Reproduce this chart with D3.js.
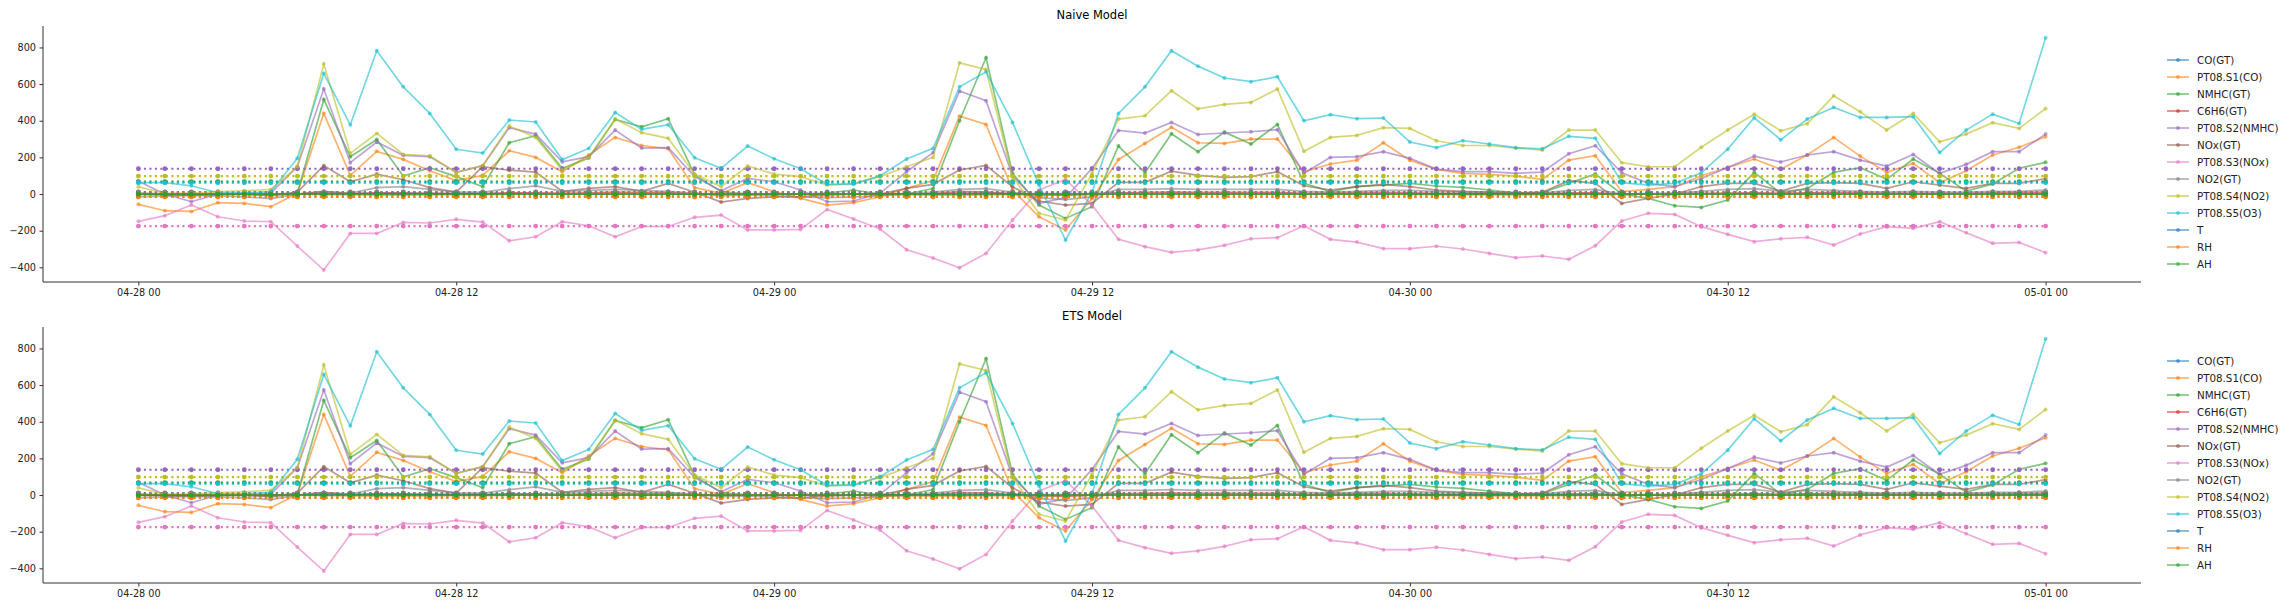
<!DOCTYPE html>
<html>
<head>
<meta charset="utf-8">
<script src="https://cdn.jsdelivr.net/npm/d3@7"></script>
<style>
  body { margin: 0; background: #fff; }
  svg { font-family: "DejaVu Sans", sans-serif; }
</style>
</head>
<body>
<div id="chart"></div>
<script>
// ---- Data (hourly, 04-28 00 .. 05-01 00) ----
const seriesNames = ["CO(GT)", "PT08.S1(CO)", "NMHC(GT)", "C6H6(GT)", "PT08.S2(NMHC)", "NOx(GT)",
    "PT08.S3(NOx)", "NO2(GT)", "PT08.S4(NO2)", "PT08.S5(O3)", "T", "RH", "AH"];
const seriesColors = ["#1f77b4", "#ff7f0e", "#2ca02c", "#d62728", "#9467bd", "#8c564b",
    "#e377c2", "#7f7f7f", "#bcbd22", "#17becf", "#1f77b4", "#ff7f0e", "#2ca02c"];
const panelTitles = ["Naive Model", "ETS Model"];
const startTime = "2004-04-28T00:00:00Z";
const nHours = 73;
const yTicks = [-400, -200, 0, 200, 400, 600, 800];

const coGT = [
    -1, -1, -2, -1, -1, -2, 0, 4, 1, 2, 1, 1,
    0, 1, 2, 2, 1, 1, 2, 2, 2, 0, -1, 0,
    0, -1, -1, -1, 0, 1, 1, 3, 4, 0, -2, -3,
    -1, 2, 2, 3, 2, 2, 2, 2, 1, 1, 1, 2,
    1, 1, 1, 1, 1, 1, 1, 2, 0, 0, 0, 1,
    1, 2, 1, 2, 2, 1, 1, 1, 1, 1, 1, 1,
    2];
const pt08s1 = [
    -56, -91, -95, -47, -51, -69, 4, 440, 102, 233, 189, 127,
    73, 102, 236, 200, 122, 213, 309, 265, 247, 35, 4, 62,
    13, -24, -60, -47, -15, 31, 73, 425, 380, 22, -124, -196,
    -24, 189, 276, 364, 280, 276, 300, 300, 122, 164, 185, 280,
    185, 135, 113, 107, 98, 80, 185, 209, 13, 25, 40, 100,
    145, 191, 135, 213, 309, 207, 118, 167, 62, 127, 213, 255,
    313];
const nmhcGT = [
    5, 0, 0, 0, 0, 0, 5, 516, 204, 298, 98, 144,
    95, 40, 280, 318, 140, 196, 407, 367, 411, 104, 13, 0,
    0, 0, 5, 22, 0, 0, 30, 400, 744, 113, -60, -133,
    -69, 262, 116, 329, 231, 338, 273, 380, 58, 13, 40, 49,
    58, 44, 36, 22, 7, 7, 58, 109, 0, -24, -64, -73,
    -33, 118, 4, 31, 118, 144, 80, 191, 113, 16, 55, 140,
    173];
const c6h6GT = [
    -2, -3, -3, -2, -2, -2, 0, 14, 3, 7, 6, 4,
    2, 3, 7, 6, 4, 7, 10, 8, 8, 1, 0, 2,
    0, -1, -2, -1, 0, 1, 2, 13, 12, 1, -4, -6,
    -1, 6, 9, 11, 9, 9, 9, 9, 4, 5, 6, 9,
    6, 4, 3, 3, 3, 2, 6, 7, 0, 1, 1, 3,
    4, 6, 4, 7, 9, 6, 4, 5, 2, 4, 7, 8,
    10];
const pt08s2 = [
    70, 0, -42, 0, 2, 5, 149, 573, 171, 284, 211, 204,
    118, 155, 362, 327, 176, 204, 349, 251, 253, 95, 18, 85,
    67, 22, -42, -38, 4, 122, 225, 562, 509, 100, -51, -20,
    140, 347, 333, 391, 325, 333, 340, 351, 113, 200, 204, 231,
    195, 136, 122, 122, 113, 120, 220, 264, 116, 58, 40, 85,
    145, 207, 175, 213, 231, 185, 153, 216, 113, 162, 231, 231,
    327];
const noxGT = [
    0, -2, -5, 0, 0, -10, 10, 155, 67, 109, 78, 35,
    11, 150, 130, 120, 15, 31, 40, 15, 58, 10, -44, -24,
    -15, -15, -5, 0, 0, 31, 53, 131, 156, 40, -38, -60,
    -51, 64, 64, 125, 102, 91, 95, 122, 45, 22, 40, 53,
    40, 22, 15, 10, 7, 10, 73, 58, -51, -24, 0, 40,
    58, 58, 16, 58, 62, 58, 31, 67, 49, 31, 58, 58,
    85];
const pt08s3 = [
    -149, -118, -60, -124, -147, -151, -284, -415, -215, -215, -155, -158,
    -138, -153, -255, -233, -151, -173, -233, -177, -177, -127, -115, -196,
    -196, -193, -84, -136, -191, -304, -349, -402, -324, -142, 22, 80,
    -60, -247, -287, -318, -305, -280, -244, -238, -173, -247, -262, -298,
    -298, -285, -300, -324, -347, -338, -356, -282, -147, -105, -111, -178,
    -220, -260, -244, -236, -278, -218, -178, -187, -151, -211, -269, -264,
    -320];
const no2GT = [
    -15, -12, -8, -10, -15, -25, 0, 12, 5, 35, 40, 25,
    12, 10, 30, 45, 15, 20, 25, 20, 15, 5, -10, -5,
    -10, -15, -20, -15, -10, 0, 10, 25, 30, 10, -20, -30,
    -15, 25, 25, 30, 25, 25, 25, 25, 15, 10, 15, 20,
    20, 15, 10, 10, 5, 5, 20, 25, 0, 0, 5, 15,
    25, 30, 15, 25, 20, 15, 10, 15, 10, 10, 15, 15,
    22];
const pt08s4 = [
    40, 4, 4, 13, 18, 25, 150, 709, 222, 331, 216, 209,
    118, 155, 371, 309, 130, 200, 409, 335, 304, 109, 40, 153,
    109, 95, 49, 58, 95, 149, 200, 716, 680, 95, -105, -142,
    113, 409, 427, 564, 465, 489, 500, 573, 233, 309, 320, 362,
    358, 291, 265, 265, 251, 240, 349, 349, 171, 149, 149, 255,
    349, 435, 345, 384, 536, 449, 349, 440, 285, 327, 389, 358,
    467];
const pt08s5 = [
    62, 62, 45, 7, 7, 13, 195, 658, 378, 782, 585, 440,
    244, 224, 404, 393, 188, 249, 445, 353, 378, 198, 140, 262,
    193, 138, 53, 53, 100, 191, 249, 585, 667, 391, 50, -251,
    10, 440, 585, 782, 698, 633, 613, 640, 400, 433, 411, 415,
    284, 253, 291, 273, 253, 247, 315, 304, 62, 49, 58, 116,
    245, 416, 296, 409, 473, 418, 418, 422, 227, 349, 436, 385,
    853];
const tempT = [
    0, 0, 0, -1, -1, -1, 0, 1, 1, 2, 2, 2,
    2, 2, 1, 1, 0, 0, -1, -1, -1, -1, -1, -1,
    -1, -1, -1, -1, -1, 0, 0, 1, 2, 2, 2, 2,
    2, 2, 1, 1, 1, 0, 0, -1, -1, -1, -1, -1,
    -1, -1, -1, -1, -1, 0, 0, 1, 1, 2, 2, 2,
    2, 2, 1, 1, 0, 0, 0, -1, -1, -1, -1, -1,
    -1];
const rhRH = [
    2, 3, 3, 2, 1, 0, -2, -4, -5, -6, -6, -5,
    -4, -3, -2, 0, 2, 3, 4, 4, 3, 2, 2, 1,
    1, 1, 0, -1, -3, -5, -6, -6, -5, -4, -3, -2,
    0, 1, 2, 3, 3, 2, 2, 1, 1, 0, 0, -1,
    -2, -3, -4, -5, -5, -4, -3, -2, 0, 1, 2, 3,
    4, 3, 2, 2, 1, 1, 0, 0, -1, -1, -2, -2,
    -2];
const ahAH = [
    0, 0, 0, 0, 0, 0, 0, 0, 0, 0, 0, 0,
    0, 0, 0, 0, 0, 0, 0, 0, 0, 0, 0, 0,
    0, 0, 0, 0, 0, 0, 0, 0, 0, 0, 0, 0,
    0, 0, 0, 0, 0, 0, 0, 0, 0, 0, 0, 0,
    0, 0, 0, 0, 0, 0, 0, 0, 0, 0, 0, 0,
    0, 0, 0, 0, 0, 0, 0, 0, 0, 0, 0, 0,
    0];

// flat forecast level of each series, per model
const naiveLevels = [3, -16, 68, 2, 138, 10, -175, 11, 98, 62, 0, -14, -2];
const etsLevels   = [3, -16, 68, 2, 138, 10, -175, 11, 98, 62, 0, -14, -2];

const actualValues = [coGT, pt08s1, nmhcGT, c6h6GT, pt08s2, noxGT, pt08s3, no2GT, pt08s4, pt08s5, tempT, rhRH, ahAH];
const levelsByPanel = [naiveLevels, etsLevels];

// ---- Layout ----
const W = 2294, H = 614;
const plotLeft = 43, plotRight = 2141;
const panelTops = [26, 327];
const panelHeight = 256;

const t0 = new Date(startTime);
const times = d3.range(nHours).map(h => d3.utcHour.offset(t0, h));

const svg = d3.select("#chart").append("svg")
    .attr("width", W)
    .attr("height", H);

const xScale = d3.scaleUtc()
    .domain([d3.utcMinute.offset(t0, -216), d3.utcMinute.offset(t0, 72 * 60 + 216)])
    .range([plotLeft, plotRight]);

function drawPanel(p) {
    const top = panelTops[p];
    const yScale = d3.scaleLinear()
        .domain([-480, 917])
        .range([top + panelHeight, top]);

    const g = svg.append("g").attr("class", "panel");

    // title
    g.append("text")
        .attr("x", (plotLeft + plotRight) / 2)
        .attr("y", top - 7)
        .attr("text-anchor", "middle")
        .attr("font-size", "11.5px")
        .attr("fill", "#000")
        .text(panelTitles[p]);

    const line = d3.line()
        .x((d, i) => xScale(times[i]))
        .y(d => yScale(d));

    const levels = levelsByPanel[p];

    seriesNames.forEach((name, s) => {
        const color = seriesColors[s];
        const vals = actualValues[s];

        // actual values
        const ga = g.append("g").attr("class", "actual");
        ga.append("path")
            .attr("d", line(vals))
            .attr("fill", "none")
            .attr("stroke", color)
            .attr("stroke-width", 1.7)
            .attr("stroke-opacity", 0.6);
        ga.selectAll("circle").data(vals).enter().append("circle")
            .attr("cx", (d, i) => xScale(times[i]))
            .attr("cy", d => yScale(d))
            .attr("r", 2)
            .attr("fill", color)
            .attr("fill-opacity", 0.6);

        // forecast (flat) line, dotted
        const flat = times.map(() => levels[s]);
        const gf = g.append("g").attr("class", "forecast");
        gf.append("path")
            .attr("d", line(flat))
            .attr("fill", "none")
            .attr("stroke", color)
            .attr("stroke-width", 2.1)
            .attr("stroke-dasharray", "2.1,3.4");
        gf.selectAll("circle").data(flat).enter().append("circle")
            .attr("cx", (d, i) => xScale(times[i]))
            .attr("cy", d => yScale(d))
            .attr("r", 2.4)
            .attr("fill", color);
    });

    // axes
    const xAxis = d3.axisBottom(xScale)
        .ticks(d3.utcHour.every(12))
        .tickFormat(d3.utcFormat("%m-%d %H"))
        .tickSize(3.5)
        .tickPadding(3.5);
    const yAxis = d3.axisLeft(yScale)
        .tickValues(yTicks)
        .tickFormat(d3.format("d"))
        .tickSize(3.5)
        .tickPadding(3.5);

    const gx = g.append("g")
        .attr("transform", `translate(0,${top + panelHeight})`)
        .call(xAxis);
    const gy = g.append("g")
        .attr("transform", `translate(${plotLeft},0)`)
        .call(yAxis);

    [gx, gy].forEach(a => {
        a.select(".domain").attr("stroke", "#333").attr("stroke-width", 1);
        a.selectAll(".tick line").attr("stroke", "#333");
        a.selectAll(".tick text").attr("font-size", "9.7px").attr("fill", "#222")
            .attr("font-family", "DejaVu Sans, sans-serif");
    });
    // keep axis lines only across the plot box
    gx.select(".domain").attr("d", `M${plotLeft},0H${plotRight}`);
    gy.select(".domain").attr("d", `M0,${top + panelHeight}V${top}`);

    // legend, centred beside the panel
    const lg = g.append("g").attr("class", "legend")
        .attr("transform", `translate(2167,${top + 34})`);
    seriesNames.forEach((name, s) => {
        const row = lg.append("g").attr("transform", `translate(0,${s * 17})`);
        row.append("line")
            .attr("x1", 0).attr("x2", 22)
            .attr("stroke", seriesColors[s])
            .attr("stroke-width", 1.7)
            .attr("stroke-opacity", 0.6);
        row.append("circle")
            .attr("cx", 11).attr("r", 2)
            .attr("fill", seriesColors[s])
            .attr("fill-opacity", 0.6);
        row.append("text")
            .attr("x", 30).attr("dy", "0.35em")
            .attr("font-size", "10.3px")
            .attr("fill", "#222")
            .text(name);
    });
}

panelTitles.forEach((t, p) => drawPanel(p));
</script>
</body>
</html>
